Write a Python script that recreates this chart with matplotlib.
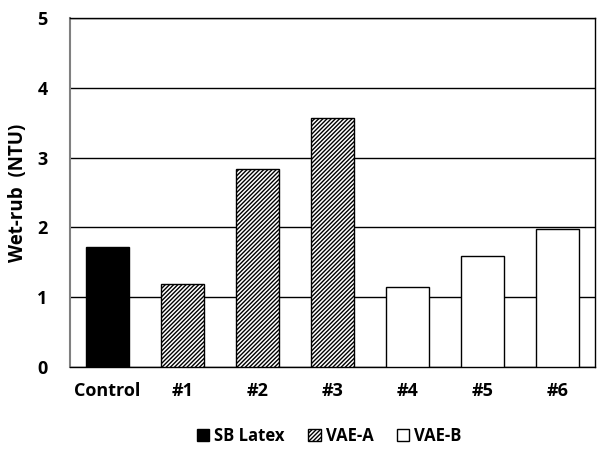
import numpy as np
import matplotlib.pyplot as plt
from matplotlib.patches import Patch

categories = ['Control', '#1', '#2', '#3', '#4', '#5', '#6']
values = [1.72, 1.19, 2.84, 3.57, 1.15, 1.59, 1.98]
groups = ['SB Latex', 'VAE-A', 'VAE-A', 'VAE-A', 'VAE-B', 'VAE-B', 'VAE-B']
yticks = [0, 1, 2, 3, 4, 5]

styles = {
    'SB Latex': dict(facecolor='black', hatch=None),
    'VAE-A': dict(facecolor='white', hatch='////////'),
    'VAE-B': dict(facecolor='white', hatch=None),
}

plt.rcParams['font.family'] = ['Open Sans', 'DejaVu Sans']
plt.rcParams['font.weight'] = 'bold'
plt.rcParams['hatch.linewidth'] = 1.0

fig = plt.figure(figsize=(6.04, 4.51), dpi=100)
ax = fig.add_axes([0.1159, 0.1863, 0.869, 0.774])

x = np.arange(len(categories))
for i, (v, g) in enumerate(zip(values, groups)):
    st = styles[g]
    ax.bar(x[i], v, width=0.58, color=st['facecolor'], hatch=st['hatch'],
           edgecolor='black', linewidth=1.0, zorder=3)

ax.set_xlim(-0.5, len(categories) - 0.5)
ax.set_ylim(0, 5)
ax.set_yticks(yticks)
ax.set_xticks(x)
ax.set_xticklabels(categories, fontsize=13, fontweight='bold')
ax.set_yticklabels([str(t) for t in yticks], fontsize=13, fontweight='bold')
ax.tick_params(axis='x', length=0, pad=11)
ax.tick_params(axis='y', length=0, pad=16)
ax.grid(axis='y', color='black', linewidth=1.0, zorder=0)
for s in ax.spines.values():
    s.set_color('black')
    s.set_linewidth(1.0)
ax.spines['left'].set_color('#808080')
ax.spines['left'].set_linewidth(1.5)
ax.set_ylabel('Wet-rub  (NTU)', fontsize=13.5, fontweight='bold', labelpad=7)

handles = [Patch(facecolor=styles[k]['facecolor'], hatch=styles[k]['hatch'],
                 edgecolor='black', label=k) for k in ['SB Latex', 'VAE-A', 'VAE-B']]
fig.legend(handles=handles, loc='center', bbox_to_anchor=(0.545, 0.033), ncol=3,
           frameon=False, handlelength=0.75, handleheight=0.75,
           handletextpad=0.3, columnspacing=1.4, prop={'weight': 'bold', 'size': 12})

fig.savefig('out.png', dpi=100)
